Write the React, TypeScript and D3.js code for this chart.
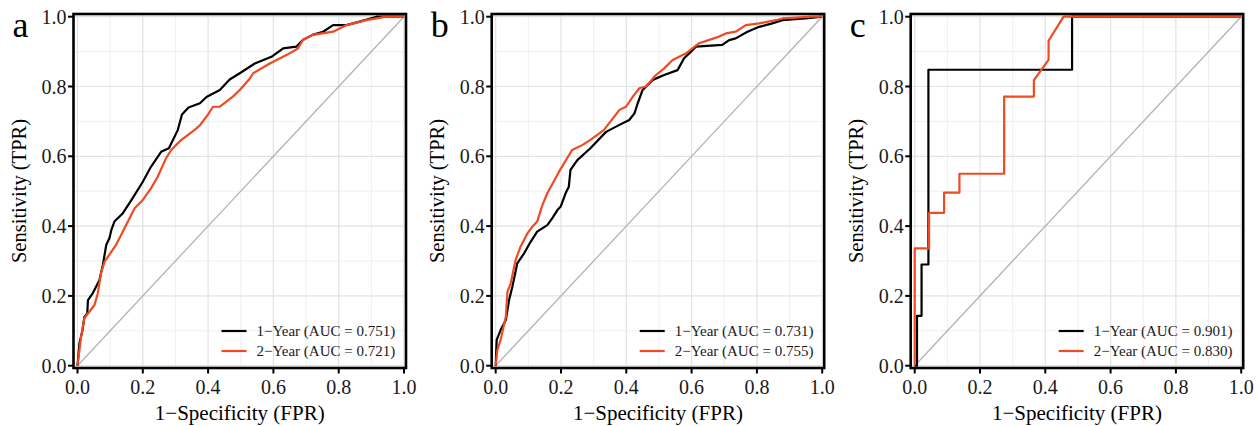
import React from 'react';
import * as d3 from 'd3';

// [fpr, tpr] points
const panelA1Year: [number, number][] = [
  [0, 0], [0.006, 0.064], [0.015, 0.1], [0.021, 0.14], [0.03, 0.15], [0.032, 0.188], [0.047, 0.208],
  [0.067, 0.245], [0.078, 0.29], [0.088, 0.346], [0.098, 0.366], [0.104, 0.39], [0.113, 0.413],
  [0.139, 0.437], [0.169, 0.48], [0.2, 0.527], [0.225, 0.57], [0.256, 0.613], [0.28, 0.623],
  [0.307, 0.675], [0.32, 0.72], [0.34, 0.74], [0.375, 0.752], [0.395, 0.77], [0.436, 0.79],
  [0.466, 0.82], [0.497, 0.838], [0.543, 0.866], [0.594, 0.885], [0.63, 0.909], [0.67, 0.914],
  [0.69, 0.933], [0.72, 0.948], [0.752, 0.957], [0.783, 0.976], [0.824, 0.976], [0.864, 0.986],
  [0.916, 1.0], [1, 1],
];
const panelA2Year: [number, number][] = [
  [0, 0], [0.011, 0.083], [0.021, 0.136], [0.052, 0.174], [0.062, 0.207], [0.072, 0.265],
  [0.083, 0.298], [0.118, 0.346], [0.175, 0.451], [0.2, 0.475], [0.225, 0.508], [0.246, 0.542],
  [0.271, 0.594], [0.287, 0.618], [0.318, 0.647], [0.358, 0.675], [0.375, 0.689], [0.4, 0.72],
  [0.415, 0.742], [0.436, 0.742], [0.476, 0.771], [0.497, 0.79], [0.528, 0.823], [0.538, 0.838],
  [0.589, 0.866], [0.64, 0.89], [0.675, 0.909], [0.69, 0.933], [0.72, 0.948], [0.783, 0.957],
  [0.824, 0.976], [0.885, 0.99], [0.946, 1.0], [1, 1],
];
const panelB1Year: [number, number][] = [
  [0, 0], [0.003, 0.074], [0.015, 0.102], [0.031, 0.131], [0.041, 0.188], [0.051, 0.226],
  [0.066, 0.293], [0.087, 0.322], [0.107, 0.355], [0.127, 0.384], [0.158, 0.403], [0.173, 0.422],
  [0.189, 0.446], [0.199, 0.456], [0.214, 0.494], [0.224, 0.513], [0.229, 0.561], [0.25, 0.589],
  [0.29, 0.623], [0.338, 0.67], [0.379, 0.69], [0.409, 0.704], [0.425, 0.723], [0.435, 0.752],
  [0.45, 0.79], [0.481, 0.819], [0.516, 0.833], [0.557, 0.847], [0.577, 0.881], [0.598, 0.9],
  [0.613, 0.914], [0.694, 0.919], [0.715, 0.933], [0.735, 0.938], [0.771, 0.957], [0.807, 0.971],
  [0.847, 0.981], [0.878, 0.99], [0.949, 0.995], [1, 1],
];
const panelB2Year: [number, number][] = [
  [0, 0], [0.005, 0.045], [0.015, 0.074], [0.031, 0.14], [0.036, 0.212], [0.046, 0.236],
  [0.061, 0.303], [0.076, 0.341], [0.097, 0.379], [0.112, 0.398], [0.127, 0.413], [0.143, 0.46],
  [0.158, 0.494], [0.194, 0.556], [0.234, 0.618], [0.265, 0.632], [0.29, 0.647], [0.331, 0.675],
  [0.379, 0.733], [0.399, 0.742], [0.42, 0.771], [0.44, 0.795], [0.46, 0.8], [0.491, 0.833],
  [0.516, 0.852], [0.542, 0.876], [0.583, 0.895], [0.623, 0.924], [0.684, 0.943], [0.705, 0.952],
  [0.735, 0.957], [0.766, 0.976], [0.807, 0.981], [0.858, 0.99], [0.878, 0.995], [0.97, 1.0], [1, 1],
];
const panelC1Year: [number, number][] = [
  [0, 0], [0.007, 0], [0.007, 0.143], [0.021, 0.143], [0.021, 0.29], [0.042, 0.29],
  [0.042, 0.848], [0.482, 0.848], [0.482, 1], [1, 1],
];
const panelC2Year: [number, number][] = [
  [0, 0], [0, 0.336], [0.044, 0.336], [0.044, 0.438], [0.09, 0.438], [0.09, 0.496],
  [0.137, 0.496], [0.137, 0.55], [0.274, 0.55], [0.274, 0.771], [0.365, 0.771], [0.365, 0.818],
  [0.41, 0.876], [0.41, 0.931], [0.456, 1], [1, 1],
];

const panelLetters = ['a', 'b', 'c'];
const seriesNames = ['1\u2212Year', '2\u2212Year'];
const aucA = ['0.751', '0.721'];
const aucB = ['0.731', '0.755'];
const aucC = ['0.901', '0.830'];
const majorTicks = [0, 0.2, 0.4, 0.6, 0.8, 1.0];
const minorTicks = [0.1, 0.3, 0.5, 0.7, 0.9];

const colors = ['#000000', '#F04A22'];
const font = '"Liberation Serif", "Times New Roman", serif';

// frame geometry
const frameTop = 14;
const frameBottom = 368;
const frameW = 332.5;

function Panel({ left, letter, curves, aucs }: { left: number; letter: string; curves: [number, number][][]; aucs: string[] }) {
  const x = d3.scaleLinear().domain([0, 1]).range([left + 4, left + 330.5]);
  const y = d3.scaleLinear().domain([0, 1]).range([365.7, 16.7]);
  const line = d3.line<[number, number]>().x(d => x(d[0])).y(d => y(d[1]));
  const right = left + frameW;
  const midX = (left + right) / 2;
  const midY = (frameTop + frameBottom) / 2;

  return (
    <g>
      {/* grid */}
      {minorTicks.map(t => (
        <g key={'mn' + t}>
          <line x1={x(t)} x2={x(t)} y1={frameTop} y2={frameBottom} stroke="#eeeeee" strokeWidth={0.9} />
          <line x1={left} x2={right} y1={y(t)} y2={y(t)} stroke="#eeeeee" strokeWidth={0.9} />
        </g>
      ))}
      {majorTicks.map(t => (
        <g key={'mj' + t}>
          <line x1={x(t)} x2={x(t)} y1={frameTop} y2={frameBottom} stroke="#e2e2e2" strokeWidth={1.2} />
          <line x1={left} x2={right} y1={y(t)} y2={y(t)} stroke="#e2e2e2" strokeWidth={1.2} />
        </g>
      ))}
      {/* diagonal */}
      <line x1={x(0)} y1={y(0)} x2={x(1)} y2={y(1)} stroke="#b3b3b3" strokeWidth={1.3} />
      {/* curves */}
      {curves.map((c, i) => (
        <path key={i} d={line(c) || ''} fill="none" stroke={colors[i]} strokeWidth={2.2} strokeLinejoin="round" />
      ))}
      {/* frame */}
      <rect x={left} y={frameTop} width={frameW} height={frameBottom - frameTop} fill="none" stroke="#000" strokeWidth={2.6} />
      {/* y axis */}
      {majorTicks.map(t => (
        <g key={'yt' + t}>
          <line x1={left - 5.5} x2={left} y1={y(t)} y2={y(t)} stroke="#000" strokeWidth={2} />
          <text x={left - 7} y={y(t)} dy="0.35em" textAnchor="end" fontSize={20} fill="#1a1a1a" fontFamily={font}>
            {t.toFixed(1)}
          </text>
        </g>
      ))}
      {/* x axis */}
      {majorTicks.map(t => (
        <g key={'xt' + t}>
          <line x1={x(t)} x2={x(t)} y1={frameBottom} y2={frameBottom + 5.5} stroke="#000" strokeWidth={2} />
          <text x={x(t)} y={393.5} textAnchor="middle" fontSize={20} fill="#1a1a1a" fontFamily={font}>
            {t.toFixed(1)}
          </text>
        </g>
      ))}
      <text x={midX} y={420} textAnchor="middle" fontSize={21} fill="#000" fontFamily={font}>
        1{'\u2212'}Specificity (FPR)
      </text>
      <text transform={`translate(${left - 48},${midY}) rotate(-90)`} textAnchor="middle" fontSize={20.5} fill="#000" fontFamily={font}>
        Sensitivity (TPR)
      </text>
      <text x={left - 61} y={37} fontSize={36} fill="#000" fontFamily={font}>
        {letter}
      </text>
      {/* legend */}
      {seriesNames.map((s, i) => (
        <g key={'lg' + i}>
          <line x1={left + 148} x2={left + 173} y1={331 + i * 20} y2={331 + i * 20} stroke={colors[i]} strokeWidth={2.2} />
          <text x={left + 183} y={331 + i * 20} dy="0.35em" fontSize={15} fill="#1a1a1a" fontFamily={font}>
            {s} (AUC = {aucs[i]})
          </text>
        </g>
      ))}
    </g>
  );
}

export default function App() {
  const panels = [
    { left: 73.5, curves: [panelA1Year, panelA2Year], aucs: aucA },
    { left: 491.7, curves: [panelB1Year, panelB2Year], aucs: aucB },
    { left: 910.7, curves: [panelC1Year, panelC2Year], aucs: aucC },
  ];
  return (
    <svg width={1260} height={426} style={{ position: 'absolute', left: 0, top: 0, background: '#fff' }}>
      <rect width={1260} height={426} fill="#fff" />
      {panels.map((p, i) => (
        <Panel key={i} left={p.left} letter={panelLetters[i]} curves={p.curves} aucs={p.aucs} />
      ))}
    </svg>
  );
}
